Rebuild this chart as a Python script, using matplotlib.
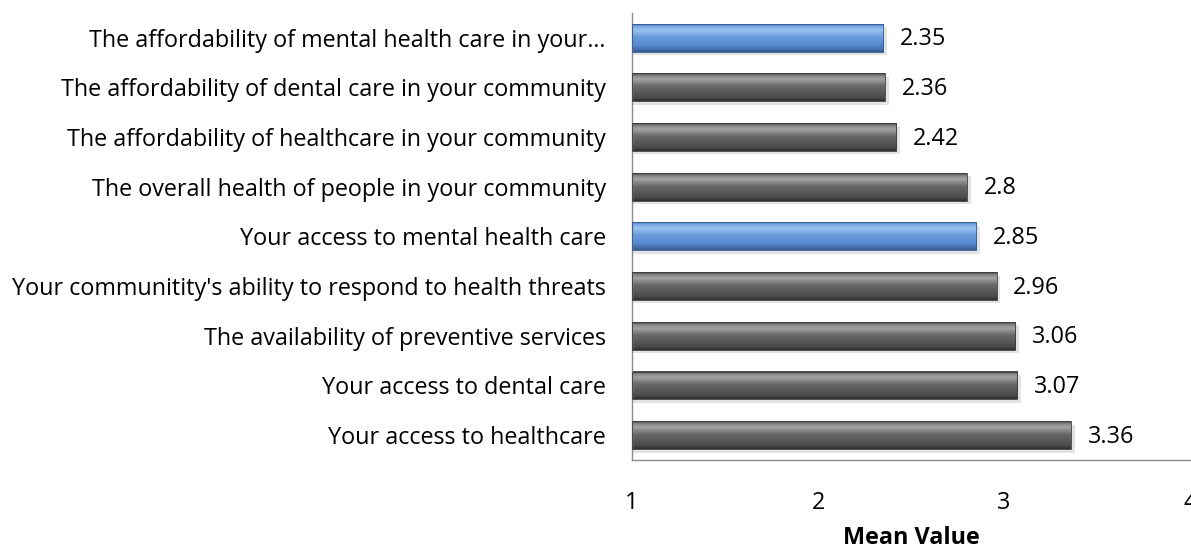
import matplotlib.pyplot as plt
import numpy as np
from matplotlib.colors import LinearSegmentedColormap

plt.rcParams["font.family"] = ["Open Sans", "DejaVu Sans"]

items = [
    "The affordability of mental health care in your\u2026",
    "The affordability of dental care in your community",
    "The affordability of healthcare in your community",
    "The overall health of people in your community",
    "Your access to mental health care",
    "Your communitity's ability to respond to health threats",
    "The availability of preventive services",
    "Your access to dental care",
    "Your access to healthcare",
]
means = [2.35, 2.36, 2.42, 2.8, 2.85, 2.96, 3.06, 3.07, 3.36]
highlight = [True, False, False, False, True, False, False, False, False]

gray_cmap = LinearSegmentedColormap.from_list(
    "gray_bevel",
    [(0.0, "#4a4a4a"), (0.1, "#8a8a8a"), (0.22, "#a4a4a4"), (0.45, "#6a6a6a"),
     (0.75, "#545454"), (0.9, "#484848"), (1.0, "#2e2e2e")],
)
blue_cmap = LinearSegmentedColormap.from_list(
    "blue_bevel",
    [(0.0, "#4d7fc2"), (0.1, "#80aee8"), (0.22, "#9cc3f0"), (0.45, "#6c9ddd"),
     (0.75, "#5689cf"), (0.9, "#4673b3"), (1.0, "#34588c")],
)

fig = plt.figure(figsize=(11.91, 5.48), dpi=100)
ax = fig.add_axes([0.5307, 0.1606, 0.4685, 0.816])

y = np.arange(len(items))
h = 0.56
grad = np.linspace(0, 1, 64).reshape(-1, 1)

# soft drop shadow under each bar
ax.barh(y + 0.07, np.array(means) - 1 + 0.02, left=1, height=h, color="#c8c8c8",
        alpha=0.5, linewidth=0, zorder=1)
bars = ax.barh(y, np.array(means) - 1, left=1, height=h, color="none",
               edgecolor="#3a3a3a", linewidth=0.6, zorder=3)
for yi, v, hl, b in zip(y, means, highlight, bars):
    cmap = blue_cmap if hl else gray_cmap
    if hl:
        b.set_edgecolor("#34588c")
    ax.imshow(grad, cmap=cmap, aspect="auto", interpolation="bicubic",
              extent=(1, v, yi + h / 2, yi - h / 2), zorder=2)
    ax.text(v + 0.09, yi + 0.03, f"{v:g}", va="center", ha="left", fontsize=16.8,
            color="black")

ax.set_xlim(1, 4)
ax.set_ylim(len(items) - 0.5, -0.5)
ax.set_xticks([1, 2, 3, 4])
ax.set_yticks(y)
ax.set_yticklabels(items)
ax.tick_params(axis="y", length=0, pad=19, labelsize=16.8, labelcolor="black")
ax.tick_params(axis="x", length=0, pad=22, labelsize=16.8, labelcolor="black")
ax.set_xlabel("Mean Value", fontsize=16.8, fontweight="bold")
ax.xaxis.set_label_coords(0.5, -0.148)

for s in ["top", "right"]:
    ax.spines[s].set_visible(False)
for s in ["left", "bottom"]:
    ax.spines[s].set_color("#8c8c8c")
    ax.spines[s].set_linewidth(1.0)

fig.savefig("out.png", dpi=100)
